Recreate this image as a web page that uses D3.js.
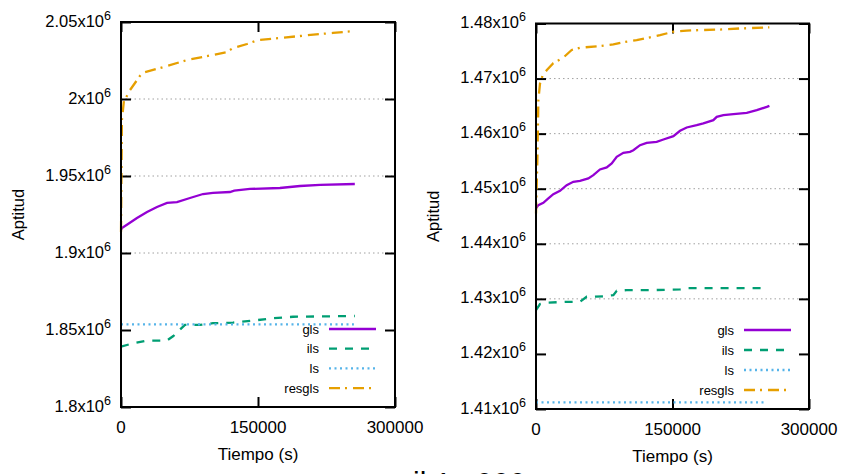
<!DOCTYPE html>
<html>
<head>
<meta charset="utf-8">
<script src="https://cdn.jsdelivr.net/npm/d3@7"></script>
<style>
  html, body { margin: 0; padding: 0; background: #fff; }
  svg { display: block; font-family: "Liberation Sans", Arial, sans-serif; }
</style>
</head>
<body>
<svg id="chart" width="841" height="474"></svg>
<script>
// ---------------- data ----------------
const seriesNames = ["gls", "ils", "ls", "resgls"];
const timeTicks = [0, 150000, 300000];

const leftYTicks = [1.8e6, 1.85e6, 1.9e6, 1.95e6, 2.0e6, 2.05e6];
const leftYLabels = ["1.8x10", "1.85x10", "1.9x10", "1.95x10", "2x10", "2.05x10"];
const leftGridTicks = [1.9e6, 1.95e6, 2.0e6];

const rightYTicks = [1.41e6, 1.42e6, 1.43e6, 1.44e6, 1.45e6, 1.46e6, 1.47e6, 1.48e6];
const rightYLabels = ["1.41x10", "1.42x10", "1.43x10", "1.44x10", "1.45x10", "1.46x10", "1.47x10", "1.48x10"];
const rightGridTicks = [1.43e6, 1.44e6, 1.45e6, 1.46e6, 1.47e6];

const leftGls = [[0,1.9150e6],[1000,1.9162e6],[7700,1.9188e6],[17500,1.9227e6],[28500,1.9266e6],[39400,1.9299e6],[50400,1.9325e6],[61300,1.9331e6],[75500,1.9357e6],[89800,1.9383e6],[100700,1.9390e6],[119300,1.9396e6],[124000,1.9405e6],[141200,1.9416e6],[174000,1.9422e6],[196000,1.9435e6],[218000,1.9442e6],[256000,1.9448e6]];
const leftIls = [[0,1.8392e6],[13500,1.8414e6],[28100,1.8431e6],[50000,1.8431e6],[57300,1.8461e6],[70000,1.8533e6],[86500,1.8533e6],[100700,1.8544e6],[122600,1.8548e6],[144600,1.8561e6],[166400,1.8576e6],[188300,1.8586e6],[256000,1.8591e6]];
const leftLs = [[0,1.8537e6],[255000,1.8537e6]];
const leftResgls = [[0,1.9136e6],[1000,1.9864e6],[3300,1.9994e6],[5000,2.0003e6],[9850,2.0058e6],[23000,2.0169e6],[42700,2.0201e6],[72300,2.0253e6],[89800,2.0273e6],[116000,2.0305e6],[122600,2.0331e6],[138000,2.0357e6],[150000,2.0383e6],[196000,2.0409e6],[218000,2.0422e6],[232000,2.0429e6],[256000,2.0442e6]];

const rightGls = [[0,1.44642e6],[2560,1.44702e6],[8060,1.44744e6],[13550,1.44824e6],[19050,1.44902e6],[26380,1.44962e6],[33700,1.45065e6],[41000,1.45125e6],[48350,1.45143e6],[57500,1.45187e6],[63000,1.45247e6],[70300,1.45350e6],[77700,1.45386e6],[83200,1.45459e6],[88700,1.45579e6],[96000,1.45651e6],[103300,1.45670e6],[107000,1.45700e6],[114300,1.45791e6],[121600,1.45833e6],[132600,1.45851e6],[140000,1.45894e6],[151000,1.45954e6],[158300,1.46051e6],[165600,1.46112e6],[176600,1.46154e6],[183900,1.46185e6],[194900,1.46245e6],[198600,1.46305e6],[205900,1.46336e6],[216900,1.46354e6],[231600,1.46377e6],[242600,1.46426e6],[253600,1.46486e6],[256500,1.46504e6]];
const rightIls = [[0,1.42796e6],[4400,1.42905e6],[11700,1.42929e6],[33700,1.42947e6],[48350,1.42947e6],[55700,1.43038e6],[63000,1.43038e6],[77700,1.43050e6],[85000,1.43068e6],[88700,1.43147e6],[99700,1.43159e6],[129000,1.43159e6],[158300,1.43172e6],[165600,1.43196e6],[253600,1.43196e6]];
const rightLs = [[0,1.41121e6],[253600,1.41121e6]];
const rightResgls = [[0,1.4455e6],[1500,1.4552e6],[2600,1.4661e6],[4400,1.4691e6],[7300,1.4706e6],[11700,1.4715e6],[19000,1.4728e6],[30000,1.4738e6],[39200,1.4752e6],[48400,1.4756e6],[70300,1.4759e6],[85000,1.4762e6],[95900,1.4766e6],[110600,1.4770e6],[125300,1.4775e6],[136300,1.4779e6],[150900,1.4785e6],[165600,1.4787e6],[180200,1.4788e6],[202200,1.4789e6],[224200,1.4791e6],[256400,1.4793e6]];

const xTitle = "Tiempo (s)";
const yTitle = "Aptitud";
const captionParts = ["il 1", "000"];

// ---------------- styles ----------------
const styles = {
  gls:    { color: "#9400d3", dash: null },
  ils:    { color: "#009e73", dash: "8,8" },
  ls:     { color: "#56b4e9", dash: "2,3.5" },
  resgls: { color: "#e69f00", dash: "11,5,2,6" }
};

const panels = [
  { x0: 121, x1: 395, y0: 22, y1: 407, yDomain: [1.8e6, 2.05e6], yTicks: leftYTicks, yLabels: leftYLabels, grid: leftGridTicks,
    series: { gls: leftGls, ils: leftIls, ls: leftLs, resgls: leftResgls },
    legendX: 329, legendY: 329, legendDy: 19.7, titleX: 18 },
  { x0: 536, x1: 809, y0: 23.5, y1: 409, yDomain: [1.41e6, 1.48e6], yTicks: rightYTicks, yLabels: rightYLabels, grid: rightGridTicks,
    series: { gls: rightGls, ils: rightIls, ls: rightLs, resgls: rightResgls },
    legendX: 744, legendY: 330, legendDy: 20, titleX: 433 }
];

const svg = d3.select("#chart");
svg.append("rect").attr("width", 841).attr("height", 474).attr("fill", "#fff");

panels.forEach(p => {
  const x = d3.scaleLinear().domain([0, 300000]).range([p.x0, p.x1]);
  const y = d3.scaleLinear().domain(p.yDomain).range([p.y1, p.y0]);
  const g = svg.append("g");

  // grid
  g.selectAll("line.grid").data(p.grid).enter().append("line")
    .attr("x1", p.x0).attr("x2", p.x1)
    .attr("y1", d => y(d)).attr("y2", d => y(d))
    .attr("stroke", "#a0a0a0").attr("stroke-width", 1)
    .attr("stroke-dasharray", "1.5,3");

  // axes (inward ticks, mirrored)
  const tickStyle = sel => {
    sel.select(".domain").remove();
    sel.selectAll(".tick line").attr("stroke", "#000").attr("stroke-width", 2);
    sel.selectAll(".tick text").remove();
  };
  g.append("g").attr("transform", `translate(${p.x0},0)`)
    .call(d3.axisLeft(y).tickValues(p.yTicks).tickSize(-10)).call(tickStyle);
  g.append("g").attr("transform", `translate(${p.x1},0)`)
    .call(d3.axisRight(y).tickValues(p.yTicks).tickSize(-10)).call(tickStyle);
  g.append("g").attr("transform", `translate(0,${p.y1})`)
    .call(d3.axisBottom(x).tickValues(timeTicks).tickSize(-10)).call(tickStyle);
  g.append("g").attr("transform", `translate(0,${p.y0})`)
    .call(d3.axisTop(x).tickValues(timeTicks).tickSize(-10)).call(tickStyle);

  // y tick labels with superscript
  const yl = g.selectAll("text.ylab").data(p.yTicks).enter().append("text")
    .attr("x", p.x0 - 10).attr("y", d => y(d) + 4.5)
    .attr("text-anchor", "end").attr("font-size", 16.5).attr("fill", "#000");
  yl.append("tspan").text((d, i) => p.yLabels[i]);
  yl.append("tspan").attr("font-size", 12.5).attr("dy", -7).text("6");

  // x tick labels
  g.selectAll("text.xlab").data(timeTicks).enter().append("text")
    .attr("x", d => x(d)).attr("y", p.y1 + 26)
    .attr("text-anchor", "middle").attr("font-size", 17).attr("fill", "#000")
    .text(d => d3.format("d")(d));

  // titles
  g.append("text").attr("x", (p.x0 + p.x1) / 2).attr("y", p.y1 + 53)
    .attr("text-anchor", "middle").attr("font-size", 17).attr("fill", "#000").text(xTitle);
  g.append("text").attr("transform", `translate(${p.titleX + 6},${(p.y0 + p.y1) / 2}) rotate(-90)`)
    .attr("text-anchor", "middle").attr("font-size", 16.5).attr("fill", "#000").text(yTitle);

  // series
  const line = d3.line().x(d => x(d[0])).y(d => y(d[1]));
  const plot = g.append("g");
  seriesNames.forEach(name => {
    const s = styles[name];
    plot.append("path").datum(p.series[name])
      .attr("d", line).attr("fill", "none")
      .attr("stroke", s.color).attr("stroke-width", 2.3)
      .attr("stroke-dasharray", s.dash);
  });

  // legend
  seriesNames.forEach((name, i) => {
    const s = styles[name];
    const ly = p.legendY + i * p.legendDy;
    g.append("text").attr("x", p.legendX - 10).attr("y", ly + 4.5)
      .attr("text-anchor", "end").attr("font-size", 13).attr("fill", "#000").text(name);
    g.append("line").attr("x1", p.legendX).attr("x2", p.legendX + 47)
      .attr("y1", ly).attr("y2", ly)
      .attr("stroke", s.color).attr("stroke-width", 2.3)
      .attr("stroke-dasharray", s.dash);
  });

  // frame
  g.append("rect").attr("x", p.x0).attr("y", p.y0)
    .attr("width", p.x1 - p.x0).attr("height", p.y1 - p.y0)
    .attr("fill", "none").attr("stroke", "#000").attr("stroke-width", 2);
});

// cropped caption at the bottom edge (only its top shows, as in the reference)
const cap = svg.append("text").attr("y", 493).attr("font-size", 30).attr("fill", "#000");
cap.append("tspan").attr("x", 413).text(captionParts[0]);
cap.append("tspan").attr("x", 476).text(captionParts[1]);
</script>
</body>
</html>
